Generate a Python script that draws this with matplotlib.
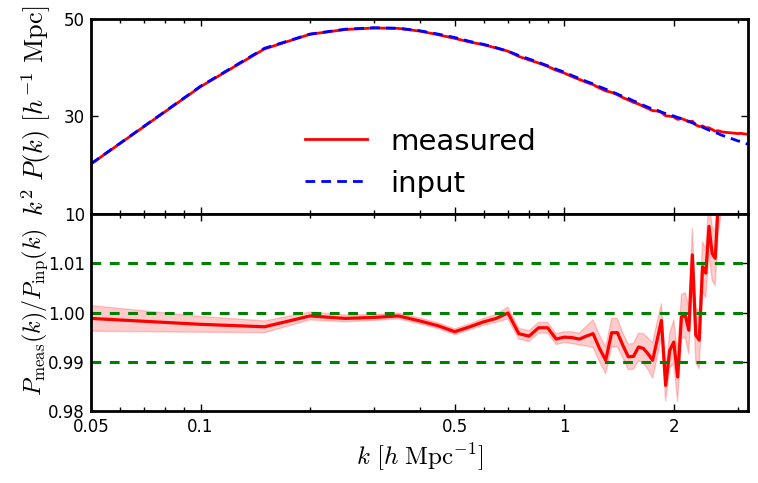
import numpy as np
import matplotlib
matplotlib.use("Agg")
import matplotlib.pyplot as plt
from matplotlib.ticker import FixedLocator, NullFormatter

plt.rcParams['mathtext.fontset'] = 'cm'

# k bins [h/Mpc]
k = [0.05, 0.10, 0.15, 0.20, 0.25, 0.30, 0.35, 0.40, 0.45, 0.50,
     0.55, 0.60, 0.65, 0.70, 0.75, 0.80, 0.85, 0.90, 0.95, 1.00,
     1.05, 1.10, 1.15, 1.20, 1.25, 1.30, 1.35, 1.40, 1.45, 1.50,
     1.55, 1.60, 1.65, 1.70, 1.75, 1.80, 1.85, 1.90, 1.95, 2.00,
     2.05, 2.10, 2.15, 2.20, 2.25, 2.30, 2.35, 2.40, 2.45, 2.50,
     2.55, 2.60, 2.65, 2.70, 2.75, 2.80, 2.85, 2.90, 2.95, 3.00,
     3.05, 3.10, 3.15, 3.20]

# input k^2 P(k)
pk_input = [20.3, 36.2, 44.0, 46.9, 47.9, 48.2, 48.1, 47.6, 46.9, 46.2,
            45.4, 44.8, 44.1, 43.4, 42.5, 41.8, 41.1, 40.4, 39.7, 39.1,
            38.4, 37.8, 37.2, 36.7, 36.1, 35.6, 35.1, 34.6, 34.1, 33.7,
            33.2, 32.8, 32.3, 31.9, 31.5, 31.3, 30.9, 30.6, 30.3, 30.1,
            29.8, 29.6, 29.3, 29.0, 28.7, 28.4, 28.1, 27.8, 27.5, 27.2,
            27.0, 26.7, 26.5, 26.2, 26.0, 25.8, 25.6, 25.4, 25.2, 25.0,
            24.9, 24.7, 24.5, 24.3]

# P_meas / P_inp
ratio = [0.9988, 0.9976, 0.9971, 0.9993, 0.9988, 0.9990, 0.9993, 0.9983, 0.9973, 0.9961,
         0.9971, 0.9981, 0.9988, 0.9999, 0.9957, 0.9952, 0.9969, 0.9969, 0.9946, 0.9950,
         0.9949, 0.9946, 0.9952, 0.9957, 0.9927, 0.9903, 0.9959, 0.9959, 0.9933, 0.9910,
         0.9911, 0.9930, 0.9927, 0.9916, 0.9903, 0.9944, 0.9984, 0.9852, 0.9923, 0.9940,
         0.9869, 0.9991, 0.9995, 0.9964, 1.0117, 0.9954, 0.9944, 1.0093, 1.0080, 1.0175,
         1.0120, 1.0110, 1.0220, 1.0260, 1.0300, 1.0360, 1.0420, 1.0480, 1.0540, 1.0600,
         1.0660, 1.0720, 1.0780, 1.0840]

# 1-sigma error on the ratio
ratio_err = [0.0026, 0.0016, 0.0012, 0.0008, 0.0007, 0.0006, 0.0006, 0.0006, 0.0006, 0.0006,
             0.0006, 0.0007, 0.0008, 0.0012, 0.0011, 0.0011, 0.0011, 0.0011, 0.0011, 0.0011,
             0.0012, 0.0012, 0.0020, 0.0028, 0.0027, 0.0027, 0.0029, 0.0029, 0.0025, 0.0026,
             0.0026, 0.0028, 0.0030, 0.0032, 0.0036, 0.0036, 0.0034, 0.0032, 0.0035, 0.0045,
             0.0050, 0.0045, 0.0045, 0.0048, 0.0054, 0.0055, 0.0058, 0.0050, 0.0050, 0.0055,
             0.0055, 0.0055, 0.0060, 0.0060, 0.0060, 0.0060, 0.0060, 0.0060, 0.0060, 0.0060,
             0.0060, 0.0060, 0.0060, 0.0060]

ref_lines = [0.99, 1.00, 1.01]
xticks = [0.05, 0.1, 0.5, 1, 2]
xticklabels = ['0.05', '0.1', '0.5', '1', '2']

k = np.array(k)
pk_input = np.array(pk_input)
ratio = np.array(ratio)
ratio_err = np.array(ratio_err)
pk_meas = pk_input * ratio

fig = plt.figure(figsize=(7.58, 4.83), dpi=100)
ax1 = fig.add_axes([0.1201, 0.5569, 0.8667, 0.4038])
ax2 = fig.add_axes([0.1201, 0.1491, 0.8667, 0.4078], sharex=ax1)

ax1.plot(k, pk_meas, color='r', lw=2, label='measured')
ax1.plot(k, pk_input, color='b', lw=2, linestyle=(0, (3.5, 2.2)), label='input')
ax1.set_ylim(10, 50)
ax1.set_yticks([10, 30, 50])
ax1.set_ylabel(r'$k^2\ P(k)\ [h^{-1}\ \mathrm{Mpc}]$', fontsize=19)
ax1.legend(loc='lower left', bbox_to_anchor=(0.286, -0.05), frameon=False,
           fontsize=21, handlelength=2.12, handletextpad=0.79, labelspacing=0.48)
plt.setp(ax1.get_xticklabels(), visible=False)

ax2.fill_between(k, ratio - ratio_err, ratio + ratio_err, color='r', alpha=0.2)
ax2.plot(k, ratio, color='r', lw=2.3)
for y in ref_lines:
    ax2.axhline(y, color='g', lw=2.2, linestyle=(0, (3.2, 2.8)))
ax2.set_ylim(0.98, 1.02)
ax2.set_yticks([0.98, 0.99, 1.00, 1.01])
ax2.set_yticklabels(['0.98', '0.99', '1.00', '1.01'])
ax2.set_ylabel(r'$P_\mathrm{meas}(k)/P_\mathrm{inp}(k)$', fontsize=17.3)
ax2.set_xlabel(r'$k\ [h\ \mathrm{Mpc}^{-1}]$', fontsize=18)

ax2.set_xscale('log')
ax2.set_xlim(0.05, 3.2)
ax2.xaxis.set_major_locator(FixedLocator(xticks))
ax2.set_xticklabels(xticklabels)
minor = [0.06, 0.07, 0.08, 0.09, 0.2, 0.3, 0.4, 0.6, 0.7, 0.8, 0.9, 3]
ax2.xaxis.set_minor_locator(FixedLocator(minor))
ax2.xaxis.set_minor_formatter(NullFormatter())

for ax in (ax1, ax2):
    for s in ax.spines.values():
        s.set_linewidth(2)
    ax.tick_params(which='both', direction='in', top=True, right=True, labelsize=12)
    ax.tick_params(which='major', length=5, width=1)
    ax.tick_params(which='minor', length=3, width=1)
    ax.tick_params(axis='y', pad=4.5)
    ax.tick_params(axis='x', pad=5)

ax1.yaxis.set_label_coords(-0.058, 0.53)
ax2.yaxis.set_label_coords(-0.062, 0.5)

fig.savefig('out.png', dpi=100)
